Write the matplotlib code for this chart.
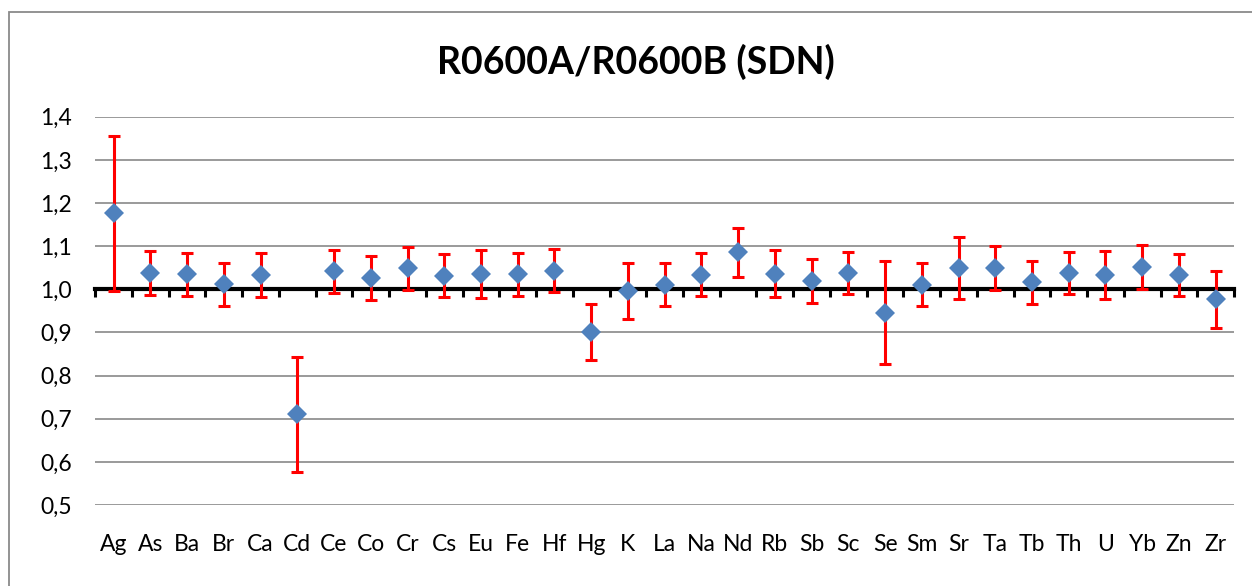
import matplotlib
matplotlib.use("Agg")
import matplotlib.pyplot as plt
from matplotlib.patches import Rectangle
import numpy as np

# ---- data ----
elements = ["Ag", "As", "Ba", "Br", "Ca", "Cd", "Ce", "Co", "Cr", "Cs", "Eu",
            "Fe", "Hf", "Hg", "K", "La", "Na", "Nd", "Rb", "Sb", "Sc", "Se",
            "Sm", "Sr", "Ta", "Tb", "Th", "U", "Yb", "Zn", "Zr"]
ratios = [1.176, 1.038, 1.035, 1.012, 1.034, 0.710, 1.042, 1.026, 1.049, 1.031,
          1.035, 1.035, 1.043, 0.900, 0.996, 1.011, 1.034, 1.086, 1.036, 1.020,
          1.037, 0.946, 1.011, 1.050, 1.050, 1.016, 1.038, 1.033, 1.052, 1.033,
          0.977]
uncert = [0.180, 0.051, 0.050, 0.050, 0.051, 0.134, 0.050, 0.050, 0.050, 0.050,
          0.056, 0.050, 0.050, 0.065, 0.066, 0.050, 0.050, 0.057, 0.055, 0.051,
          0.049, 0.120, 0.050, 0.072, 0.051, 0.050, 0.049, 0.055, 0.051, 0.049,
          0.066]
ytick_values = [0.5, 0.6, 0.7, 0.8, 0.9, 1.0, 1.1, 1.2, 1.3, 1.4]
ytick_labels = ["0,5", "0,6", "0,7", "0,8", "0,9", "1,0", "1,1", "1,2", "1,3", "1,4"]
title = "R0600A/R0600B (SDN)"
reference_level = 1.0

plt.rcParams['font.family'] = ['Lato', 'DejaVu Sans']

W, H = 1252, 586
fig = plt.figure(figsize=(W / 100, H / 100), dpi=100)
fig.patch.set_facecolor('white')

# chart border
fig.patches.append(Rectangle((9 / W, -0.1), 1.2, 1.1 - 12 / H,
                             transform=fig.transFigure, fill=False,
                             edgecolor='#8a8a8a', linewidth=1.3))

ax = fig.add_axes([95.3 / W, 1 - 505 / H, (1234 - 95.3) / W, (505 - 116.7) / H])
x = np.arange(len(elements))

ax.errorbar(x, ratios, yerr=uncert, fmt='none', ecolor='#FF0000',
            elinewidth=2.2, capsize=4.3, capthick=2.2, zorder=3)
ax.plot(x, ratios, linestyle='none', marker='D', color='#4F81BD',
        markersize=10.5, markeredgewidth=0, zorder=4, clip_on=False)

ax.set_xlim(-0.5, len(elements) - 0.5)
ax.set_ylim(ytick_values[0], ytick_values[-1])
ax.set_yticks(ytick_values)
ax.set_yticklabels(ytick_labels)
ax.yaxis.grid(True, color='#898989', linewidth=1.2)
ax.set_axisbelow(True)

for s in ['left', 'right', 'top']:
    ax.spines[s].set_visible(False)
ax.spines['bottom'].set_position(('data', reference_level))
ax.spines['bottom'].set_linewidth(3)
ax.spines['bottom'].set_color('black')
ax.spines['bottom'].set_zorder(2.5)

ax.set_xticks(np.arange(len(elements) + 1) - 0.5)
ax.set_xticklabels([])
ax.tick_params(axis='x', direction='out', length=5.5, width=2.2, color='black')
ax.tick_params(axis='y', length=0, pad=17, labelsize=16.5, labelcolor='black')

sec = ax.secondary_xaxis('bottom')
sec.set_xticks(x)
sec.set_xticklabels(elements)
sec.tick_params(length=0, pad=21, labelsize=16.5, labelcolor='black')
sec.spines['bottom'].set_visible(False)

fig.text(636 / W, 1 - 62 / H, title, ha='center', va='center',
         fontsize=27, fontweight='bold', color='black')

fig.savefig("out.png", dpi=100, facecolor='white')
